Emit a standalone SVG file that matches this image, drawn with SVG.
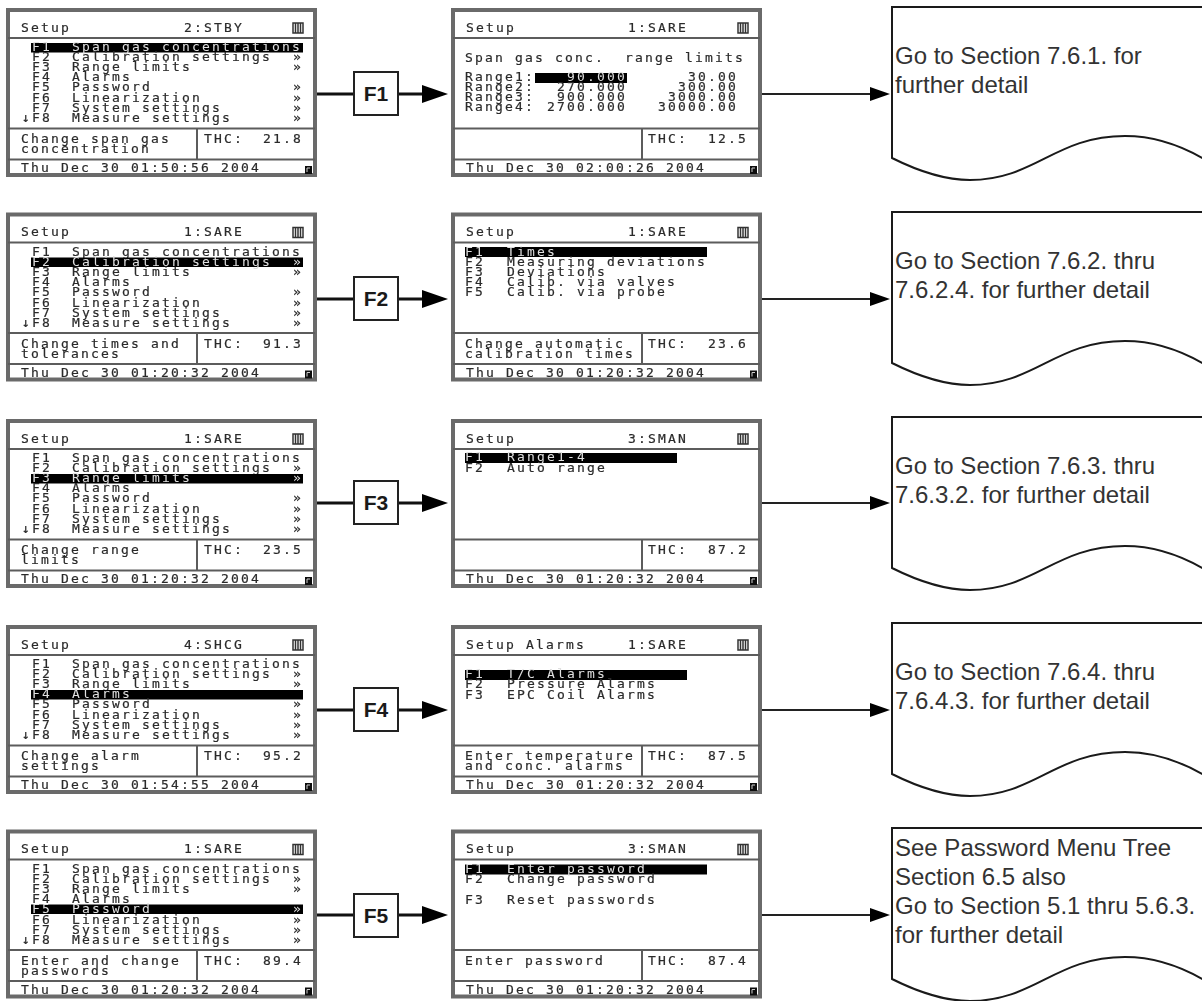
<svg xmlns="http://www.w3.org/2000/svg" width="1202" height="1001" viewBox="0 0 1202 1001">
<style>
text{font-family:"DejaVu Sans Mono","Liberation Mono",monospace}
.s text{font-size:13px;letter-spacing:2.17px;fill:#2a2a2a;stroke:#2a2a2a;stroke-width:.2}
.s text.w{fill:#e0e0e0;stroke:none}
.s{filter:url(#b)}
.fr{fill:#fff;stroke:#6a6a6a;stroke-width:4}
.dv{stroke:#5c5c5c;stroke-width:2;fill:none}
.bar{fill:#000}
.doc{fill:#fff;stroke:#1a1a1a;stroke-width:2}
.doc-t{font-family:"Liberation Sans",Arial,sans-serif;font-size:24px;fill:#333}
.key{fill:#fff;stroke:#222;stroke-width:2}
.key-t{font-family:"Liberation Sans",Arial,sans-serif;font-size:21px;font-weight:700;fill:#1a1a1a;text-anchor:middle}
.c1{stroke:#111;stroke-width:3;fill:none}
.c2{stroke:#222;stroke-width:2;fill:none}
</style>
<defs>
<filter id="b" x="-2%" y="-2%" width="104%" height="104%"><feGaussianBlur stdDeviation="0.5"/></filter>
<marker id="big" markerUnits="userSpaceOnUse" markerWidth="26" markerHeight="20" refX="0" refY="10" orient="auto"><path d="M0 1L26 10L0 19Z" fill="#000"/></marker>
<marker id="sm" markerUnits="userSpaceOnUse" markerWidth="20" markerHeight="16" refX="0" refY="8" orient="auto"><path d="M0 1L20 8L0 15Z" fill="#000"/></marker>
<g id="base">
<rect class="fr" x="2" y="2" width="307" height="165"/>
<path class="dv" d="M2 30H309M2 120.500H309M2 151.500H309M191 120.500V151.500"/>
<path d="M287 15h10v10h-10zM289.500 15v10M292 15v10M294.500 15v10" fill="none" stroke="#333" stroke-width="1.500"/>
<rect x="299" y="158" width="7" height="8" fill="#111"/>
<path d="M301 164v-4h3" fill="none" stroke="#ccc" stroke-width="1"/>
</g>
</defs>

<g id="connectors">
<path class="c1" d="M317 94H354M398 94H422" marker-end="url(#big)"/>
<path class="c2" d="M760 94H870" marker-end="url(#sm)"/>
<path class="c1" d="M317 299H354M398 299H422" marker-end="url(#big)"/>
<path class="c2" d="M760 299H870" marker-end="url(#sm)"/>
<path class="c1" d="M317 503H354M398 503H422" marker-end="url(#big)"/>
<path class="c2" d="M760 503H870" marker-end="url(#sm)"/>
<path class="c1" d="M317 710H354M398 710H422" marker-end="url(#big)"/>
<path class="c2" d="M760 710H870" marker-end="url(#sm)"/>
<path class="c1" d="M317 915H354M398 915H422" marker-end="url(#big)"/>
<path class="c2" d="M760 915H870" marker-end="url(#sm)"/>
</g>

<g id="screen-left-1" class="s" transform="translate(6,8)">
<use href="#base"/><text x="15" y="23.500">Setup</text>
<text x="178" y="23.500">2:STBY</text>
<rect class="bar" x="25" y="35" width="272" height="9.500"/>
<text class="w" x="26" y="43">F1</text><text class="w" x="66" y="43">Span gas concentrations</text>
<text x="26" y="53">F2</text><text x="66" y="53">Calibration settings</text><text x="287" y="53">»</text>
<text x="26" y="63">F3</text><text x="66" y="63">Range limits</text><text x="287" y="63">»</text>
<text x="26" y="73">F4</text><text x="66" y="73">Alarms</text>
<text x="26" y="83">F5</text><text x="66" y="83">Password</text><text x="287" y="83">»</text>
<text x="26" y="94">F6</text><text x="66" y="94">Linearization</text><text x="287" y="94">»</text>
<text x="26" y="104">F7</text><text x="66" y="104">System settings</text><text x="287" y="104">»</text>
<text x="16" y="114">↓F8</text><text x="66" y="114">Measure settings</text><text x="287" y="114">»</text>
<text x="15" y="135">Change span gas</text><text x="15" y="145">concentration</text>
<text x="198" y="135">THC:</text><text x="257" y="135">21.8</text>
<text x="15" y="164">Thu Dec 30 01:50:56 2004</text>
</g>

<g id="screen-mid-1" class="s" transform="translate(451,8)">
<use href="#base"/><text x="15" y="23.500">Setup</text>
<text x="177" y="23.500">1:SARE</text>
<text x="14" y="54" xml:space="preserve">Span gas conc.  range limits</text>
<rect class="bar" x="84" y="65" width="92" height="10"/>
<text x="14" y="73">Range1:</text><text class="w" x="116" y="73">90.000</text><text x="237" y="73">30.00</text>
<text x="14" y="83">Range2:</text><text x="106" y="83">270.000</text><text x="227" y="83">300.00</text>
<text x="14" y="93">Range3:</text><text x="106" y="93">900.000</text><text x="217" y="93">3000.00</text>
<text x="14" y="103">Range4:</text><text x="96" y="103">2700.000</text><text x="207" y="103">30000.00</text>
<text x="197" y="135">THC:</text><text x="257" y="135">12.5</text>
<text x="15" y="164">Thu Dec 30 02:00:26 2004</text>
</g>

<g id="screen-left-2" class="s" transform="translate(6,212.500)">
<use href="#base"/><text x="15" y="23.500">Setup</text>
<text x="178" y="23.500">1:SARE</text>
<text x="26" y="43">F1</text><text x="66" y="43">Span gas concentrations</text>
<rect class="bar" x="25" y="45" width="272" height="9.500"/>
<text class="w" x="26" y="53">F2</text><text class="w" x="66" y="53">Calibration settings</text><text class="w" x="287" y="53">»</text>
<text x="26" y="63">F3</text><text x="66" y="63">Range limits</text><text x="287" y="63">»</text>
<text x="26" y="73">F4</text><text x="66" y="73">Alarms</text>
<text x="26" y="83">F5</text><text x="66" y="83">Password</text><text x="287" y="83">»</text>
<text x="26" y="94">F6</text><text x="66" y="94">Linearization</text><text x="287" y="94">»</text>
<text x="26" y="104">F7</text><text x="66" y="104">System settings</text><text x="287" y="104">»</text>
<text x="16" y="114">↓F8</text><text x="66" y="114">Measure settings</text><text x="287" y="114">»</text>
<text x="15" y="135">Change times and</text><text x="15" y="145">tolerances</text>
<text x="198" y="135">THC:</text><text x="257" y="135">91.3</text>
<text x="15" y="164">Thu Dec 30 01:20:32 2004</text>
</g>

<g id="screen-mid-2" class="s" transform="translate(451,212.500)">
<use href="#base"/><text x="15" y="23.500">Setup</text>
<text x="177" y="23.500">1:SARE</text>
<rect class="bar" x="14" y="34.500" width="242" height="10"/>
<text class="w" x="14" y="43">F1</text><text class="w" x="56" y="43">Times</text>
<text x="14" y="53">F2</text><text x="56" y="53">Measuring deviations</text>
<text x="14" y="63">F3</text><text x="56" y="63">Deviations</text>
<text x="14" y="73">F4</text><text x="56" y="73">Calib. via valves</text>
<text x="14" y="83">F5</text><text x="56" y="83">Calib. via probe</text>
<text x="14" y="135">Change automatic</text><text x="14" y="145">calibration times</text>
<text x="197" y="135">THC:</text><text x="257" y="135">23.6</text>
<text x="15" y="164">Thu Dec 30 01:20:32 2004</text>
</g>

<g id="screen-left-3" class="s" transform="translate(6,419)">
<use href="#base"/><text x="15" y="23.500">Setup</text>
<text x="178" y="23.500">1:SARE</text>
<text x="26" y="43">F1</text><text x="66" y="43">Span gas concentrations</text>
<text x="26" y="53">F2</text><text x="66" y="53">Calibration settings</text><text x="287" y="53">»</text>
<rect class="bar" x="25" y="55" width="272" height="9.500"/>
<text class="w" x="26" y="63">F3</text><text class="w" x="66" y="63">Range limits</text><text class="w" x="287" y="63">»</text>
<text x="26" y="73">F4</text><text x="66" y="73">Alarms</text>
<text x="26" y="83">F5</text><text x="66" y="83">Password</text><text x="287" y="83">»</text>
<text x="26" y="94">F6</text><text x="66" y="94">Linearization</text><text x="287" y="94">»</text>
<text x="26" y="104">F7</text><text x="66" y="104">System settings</text><text x="287" y="104">»</text>
<text x="16" y="114">↓F8</text><text x="66" y="114">Measure settings</text><text x="287" y="114">»</text>
<text x="15" y="135">Change range</text><text x="15" y="145">limits</text>
<text x="198" y="135">THC:</text><text x="257" y="135">23.5</text>
<text x="15" y="164">Thu Dec 30 01:20:32 2004</text>
</g>

<g id="screen-mid-3" class="s" transform="translate(451,419)">
<use href="#base"/><text x="15" y="23.500">Setup</text>
<text x="177" y="23.500">3:SMAN</text>
<rect class="bar" x="14" y="34" width="212" height="10"/>
<text class="w" x="14" y="42">F1</text><text class="w" x="56" y="42">Range1-4</text>
<text x="14" y="53">F2</text><text x="56" y="53">Auto range</text>
<text x="197" y="135">THC:</text><text x="257" y="135">87.2</text>
<text x="15" y="164">Thu Dec 30 01:20:32 2004</text>
</g>

<g id="screen-left-4" class="s" transform="translate(6,625)">
<use href="#base"/><text x="15" y="23.500">Setup</text>
<text x="178" y="23.500">4:SHCG</text>
<text x="26" y="43">F1</text><text x="66" y="43">Span gas concentrations</text>
<text x="26" y="53">F2</text><text x="66" y="53">Calibration settings</text><text x="287" y="53">»</text>
<text x="26" y="63">F3</text><text x="66" y="63">Range limits</text><text x="287" y="63">»</text>
<rect class="bar" x="25" y="65" width="272" height="9.500"/>
<text class="w" x="26" y="73">F4</text><text class="w" x="66" y="73">Alarms</text>
<text x="26" y="83">F5</text><text x="66" y="83">Password</text><text x="287" y="83">»</text>
<text x="26" y="94">F6</text><text x="66" y="94">Linearization</text><text x="287" y="94">»</text>
<text x="26" y="104">F7</text><text x="66" y="104">System settings</text><text x="287" y="104">»</text>
<text x="16" y="114">↓F8</text><text x="66" y="114">Measure settings</text><text x="287" y="114">»</text>
<text x="15" y="135">Change alarm</text><text x="15" y="145">settings</text>
<text x="198" y="135">THC:</text><text x="257" y="135">95.2</text>
<text x="15" y="164">Thu Dec 30 01:54:55 2004</text>
</g>

<g id="screen-mid-4" class="s" transform="translate(451,625)">
<use href="#base"/>
<text x="15" y="23.500">Setup Alarms</text>
<text x="177" y="23.500">1:SARE</text>
<rect class="bar" x="14" y="45" width="222" height="10"/>
<text class="w" x="14" y="53">F1</text><text class="w" x="56" y="53">T/C Alarms</text>
<text x="14" y="63">F2</text><text x="56" y="63">Pressure Alarms</text>
<text x="14" y="73.500">F3</text><text x="56" y="73.500">EPC Coil Alarms</text>
<text x="14" y="135">Enter temperature</text><text x="14" y="145">and conc. alarms</text>
<text x="197" y="135">THC:</text><text x="257" y="135">87.5</text>
<text x="15" y="164">Thu Dec 30 01:20:32 2004</text>
</g>

<g id="screen-left-5" class="s" transform="translate(6,829.500)">
<use href="#base"/><text x="15" y="23.500">Setup</text>
<text x="178" y="23.500">1:SARE</text>
<text x="26" y="43">F1</text><text x="66" y="43">Span gas concentrations</text>
<text x="26" y="53">F2</text><text x="66" y="53">Calibration settings</text><text x="287" y="53">»</text>
<text x="26" y="63">F3</text><text x="66" y="63">Range limits</text><text x="287" y="63">»</text>
<text x="26" y="73">F4</text><text x="66" y="73">Alarms</text>
<rect class="bar" x="25" y="75" width="272" height="9.500"/>
<text class="w" x="26" y="83">F5</text><text class="w" x="66" y="83">Password</text><text class="w" x="287" y="83">»</text>
<text x="26" y="94">F6</text><text x="66" y="94">Linearization</text><text x="287" y="94">»</text>
<text x="26" y="104">F7</text><text x="66" y="104">System settings</text><text x="287" y="104">»</text>
<text x="16" y="114">↓F8</text><text x="66" y="114">Measure settings</text><text x="287" y="114">»</text>
<text x="15" y="135">Enter and change</text><text x="15" y="145">passwords</text>
<text x="198" y="135">THC:</text><text x="257" y="135">89.4</text>
<text x="15" y="164">Thu Dec 30 01:20:32 2004</text>
</g>

<g id="screen-mid-5" class="s" transform="translate(451,829.500)">
<use href="#base"/><text x="15" y="23.500">Setup</text>
<text x="177" y="23.500">3:SMAN</text>
<rect class="bar" x="14" y="35" width="242" height="10"/>
<text class="w" x="14" y="43">F1</text><text class="w" x="56" y="43">Enter password</text>
<text x="14" y="53.500">F2</text><text x="56" y="53.500">Change password</text>
<text x="14" y="74">F3</text><text x="56" y="74">Reset passwords</text>
<text x="14" y="135">Enter password</text>
<text x="197" y="135">THC:</text><text x="257" y="135">87.4</text>
<text x="15" y="164">Thu Dec 30 01:20:32 2004</text>
</g>

<g id="key-f1"><rect class="key" x="354" y="72" width="44" height="43"/><text class="key-t" x="376" y="101">F1</text></g>
<g id="key-f2"><rect class="key" x="354" y="277" width="44" height="43"/><text class="key-t" x="376" y="306">F2</text></g>
<g id="key-f3"><rect class="key" x="354" y="481" width="44" height="43"/><text class="key-t" x="376" y="510">F3</text></g>
<g id="key-f4"><rect class="key" x="354" y="688" width="44" height="43"/><text class="key-t" x="376" y="717">F4</text></g>
<g id="key-f5"><rect class="key" x="354" y="894" width="44" height="43"/><text class="key-t" x="376" y="923">F5</text></g>

<g id="doc-1"><path class="doc" d="M1204 7H892V158C920 172 945 180 970 180C1035 180 1055 136 1125 136C1155 136 1180 145 1204 159"/>
<text class="doc-t" x="895" y="64">Go to Section 7.6.1. for</text><text class="doc-t" x="895" y="93">further detail</text></g>
<g id="doc-2" transform="translate(0,205)"><path class="doc" d="M1204 7H892V158C920 172 945 180 970 180C1035 180 1055 136 1125 136C1155 136 1180 145 1204 159"/>
<text class="doc-t" x="895" y="64">Go to Section 7.6.2. thru</text><text class="doc-t" x="895" y="93">7.6.2.4. for further detail</text></g>
<g id="doc-3" transform="translate(0,410)"><path class="doc" d="M1204 7H892V158C920 172 945 180 970 180C1035 180 1055 136 1125 136C1155 136 1180 145 1204 159"/>
<text class="doc-t" x="895" y="64">Go to Section 7.6.3. thru</text><text class="doc-t" x="895" y="93">7.6.3.2. for further detail</text></g>
<g id="doc-4" transform="translate(0,616)"><path class="doc" d="M1204 7H892V158C920 172 945 180 970 180C1035 180 1055 136 1125 136C1155 136 1180 145 1204 159"/>
<text class="doc-t" x="895" y="64">Go to Section 7.6.4. thru</text><text class="doc-t" x="895" y="93">7.6.4.3. for further detail</text></g>
<g id="doc-5" transform="translate(0,821)"><path class="doc" d="M1204 7H892V158C920 172 945 180 970 180C1035 180 1055 136 1125 136C1155 136 1180 145 1204 159"/>
<text class="doc-t" x="895" y="35">See Password Menu Tree</text><text class="doc-t" x="895" y="64">Section 6.5 also</text><text class="doc-t" x="895" y="93">Go to Section 5.1 thru 5.6.3.</text><text class="doc-t" x="895" y="122">for further detail</text></g>
</svg>
